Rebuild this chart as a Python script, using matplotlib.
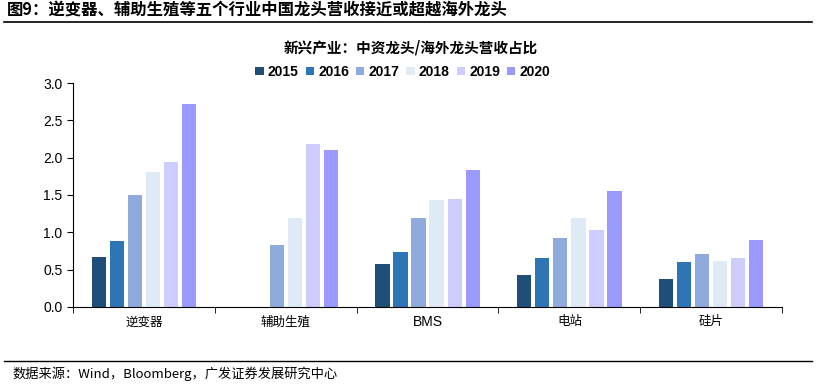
import numpy as np
import matplotlib
matplotlib.use("Agg")
import matplotlib.pyplot as plt

plt.rcParams['font.family'] = ['Noto Sans CJK SC', 'DejaVu Sans']

categories = ['逆变器', '辅助生殖', 'BMS', '电站', '硅片']
years = ['2015', '2016', '2017', '2018', '2019', '2020']
values = {
    '2015': [0.67, np.nan, 0.57, 0.43, 0.38],
    '2016': [0.88, np.nan, 0.74, 0.65, 0.60],
    '2017': [1.50, 0.83, 1.19, 0.92, 0.71],
    '2018': [1.81, 1.19, 1.43, 1.19, 0.62],
    '2019': [1.94, 2.18, 1.45, 1.03, 0.65],
    '2020': [2.72, 2.10, 1.84, 1.55, 0.90],
}
colors = ['#1F4E79', '#2E75B6', '#8FAADC', '#DEEBF7', '#CCCCFF', '#9999FF']

fig = plt.figure(figsize=(8.16, 3.88), dpi=100)
ax = fig.add_axes([0.0895, 0.209, 0.869, 0.577])

x = np.arange(len(categories))
step = 0.127
width = 0.1
for i, yr in enumerate(years):
    ax.bar(x + (i - 2.5) * step, values[yr], width, color=colors[i], label=yr)

ax.set_xlim(-0.5, len(categories) - 0.5)
ax.set_ylim(0, 3.0)
ax.set_yticks(np.arange(0, 3.01, 0.5))
ax.set_yticklabels([f'{v:.1f}' for v in np.arange(0, 3.01, 0.5)], fontsize=10, family='Liberation Sans')
ax.set_xticks(x)
ax.set_xticklabels(categories, fontsize=9)
ax.set_xticks(np.arange(-0.5, len(categories)), minor=True)
ax.tick_params(axis='x', which='major', length=0, pad=6)
ax.tick_params(axis='x', which='minor', length=4, direction='out')
ax.tick_params(axis='y', length=4, direction='out')
for t in ax.get_xticklabels():
    if t.get_text() == 'BMS':
        t.set_family('Liberation Sans')
        t.set_fontsize(10)
for s in ['top', 'right']:
    ax.spines[s].set_visible(False)

leg = ax.legend(loc='center', bbox_to_anchor=(0.465, 1.05), ncol=6, frameon=False,
                handlelength=0.6, handleheight=0.6, handletextpad=0.3, columnspacing=0.5,
                prop={'family': 'Liberation Sans', 'weight': 'bold', 'size': 10})

fig.text(0.503, 0.878, '新兴产业：中资龙头/海外龙头营收占比', ha='center', va='center',
         fontsize=10.5, fontweight='bold')
fig.text(0.008, 0.972, '图9：逆变器、辅助生殖等五个行业中国龙头营收接近或超越海外龙头', ha='left', va='center',
         fontsize=11.8, fontweight='bold')
fig.add_artist(plt.Line2D([0.005, 0.995], [0.943, 0.943], color='black', lw=1.2))
fig.add_artist(plt.Line2D([0.005, 0.995], [0.07, 0.07], color='black', lw=1.0))
fig.text(0.015, 0.038, '数据来源：Wind，Bloomberg，广发证券发展研究中心', ha='left', va='center', fontsize=9.5)

fig.savefig('out.png', dpi=100)
